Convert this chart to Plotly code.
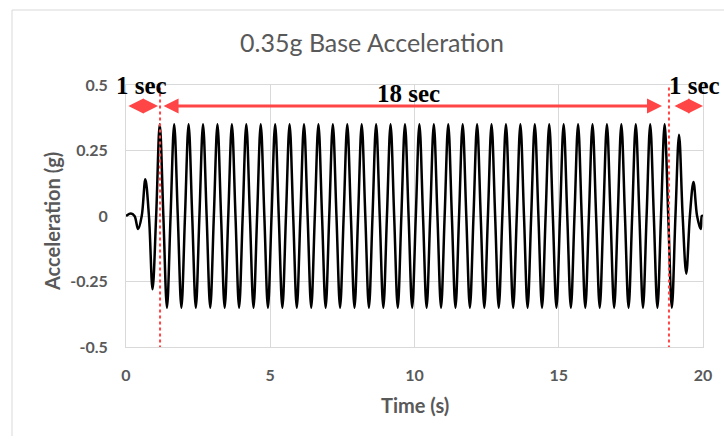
import plotly.graph_objects as go

# Extreme values of the base acceleration record (g), one every half cycle
ramp_up_peaks = [0.01, -0.05, 0.14, -0.28]
steady_peaks = [0.35, -0.35] * 35 + [0.35]
ramp_down_peaks = [-0.35, 0.31, -0.22, 0.13, -0.05]
first_peak_time = 0.17   # s
half_period = 0.25       # s  (2 Hz excitation)
record_start = 0.0
record_end = 20.0

# Annotation data
phase_marks = [1.18, 18.82]          # start / end of the steady phase (s)
phase_labels = ["1 sec", "18 sec", "1 sec"]

x_ticks = [0, 5, 10, 15, 20]
y_ticks = [0.5, 0.25, 0, -0.25, -0.5]
y_tick_text = ["0.5", "0.25", "0", "-0.25", "-0.5"]

# Build the trace: extremes joined through zero crossings, drawn as a spline
peaks = ramp_up_peaks + steady_peaks + ramp_down_peaks
t_pts = [record_start]
a_pts = [0.0]
for i, p in enumerate(peaks):
    tp = first_peak_time + i * half_period
    if i > 0:
        t_pts.append((t_pts[-1] + tp) / 2)
        a_pts.append(0.0)
    t_pts.append(tp)
    a_pts.append(p)
t_pts.append((t_pts[-1] + record_end) / 2)
a_pts.append(0.0)
t_pts.append(record_end)
a_pts.append(0.0)

RED = "#FF4545"
GRAY = "#595959"
GRID = "#D9D9D9"

# plot area in pixels: x 126..703, y 85..347
L, R, T, B = 126, 703, 85, 347
W, H = R - L, B - T


def px(xp):
    return (xp - L) / W


def py(yp):
    return (B - yp) / H


fig = go.Figure()
fig.add_trace(go.Scatter(
    x=t_pts, y=a_pts, mode="lines",
    line=dict(color="black", width=2.5, shape="spline", smoothing=1.0),
    hoverinfo="skip", showlegend=False,
))

# Dotted phase boundaries
for xm in phase_marks:
    fig.add_shape(type="line", xref="x", yref="y", x0=xm, x1=xm, y0=0.49, y1=-0.5,
                  line=dict(color=RED, width=2, dash="dot"))

# Double-headed duration arrows
arrow_spans = [(0.03, 1.11), (1.25, 18.58), (18.96, 20.0)]
for xa, xb in arrow_spans:
    fig.add_annotation(x=xb, y=0.42, ax=xa, ay=0.42, xref="x", yref="y",
                       axref="x", ayref="y", text="", showarrow=True,
                       arrowhead=2, startarrowhead=2, arrowside="end+start",
                       arrowsize=1, startarrowsize=1, arrowwidth=3,
                       arrowcolor=RED)

label_pos = [(141, 85), (408, 93), (694, 85)]
for (lx, ly), txt in zip(label_pos, phase_labels):
    fig.add_annotation(x=px(lx), y=py(ly), xref="paper", yref="paper",
                       text="<b>%s</b>" % txt,
                       showarrow=False, xanchor="center", yanchor="middle",
                       font=dict(family="Liberation Serif", size=25, color="black"))

# Axis titles
fig.add_annotation(x=px(414.5), y=py(405), xref="paper", yref="paper",
                   text="<b>Time (s)</b>", showarrow=False, xanchor="center", yanchor="middle",
                   font=dict(family="Lato", size=20, color=GRAY))
fig.add_annotation(x=px(52), y=py(222), xref="paper", yref="paper",
                   text="<b>Acceleration (g)</b>", showarrow=False, textangle=-90,
                   xanchor="center", yanchor="middle",
                   font=dict(family="Lato", size=20, color=GRAY))

# Chart frame (left and top edges)
fig.add_shape(type="line", xref="paper", yref="paper", x0=px(12), x1=px(12),
              y0=py(436), y1=py(10), line=dict(color=GRID, width=1))
fig.add_shape(type="line", xref="paper", yref="paper", x0=px(12), x1=px(730),
              y0=py(10), y1=py(10), line=dict(color=GRID, width=1))

fig.update_layout(
    width=724, height=439,
    margin=dict(l=L, r=724 - R, t=T, b=439 - B),
    paper_bgcolor="white", plot_bgcolor="white",
    title=dict(text="0.35g Base Acceleration", x=372 / 724, y=1 - 43 / 439,
               xanchor="center", yanchor="middle",
               font=dict(family="Lato", size=25, color=GRAY)),
    font=dict(family="Lato", color=GRAY),
)
fig.update_xaxes(range=[0, 20], tickvals=x_ticks, ticks="", showgrid=True, gridcolor=GRID,
                 gridwidth=1, zeroline=False, showline=True, linecolor=GRID, mirror=True,
                 tickfont=dict(family="Lato", size=16, color=GRAY, weight="bold"),
                 ticklabelstandoff=14)
fig.update_yaxes(range=[-0.5, 0.5], tickvals=y_ticks, ticktext=y_tick_text, ticks="",
                 showgrid=True, gridcolor=GRID, gridwidth=1, zeroline=False,
                 showline=True, linecolor=GRID, mirror=True,
                 tickfont=dict(family="Lato", size=16, color=GRAY, weight="bold"),
                 ticklabelstandoff=14)

fig.write_html("out.html")
